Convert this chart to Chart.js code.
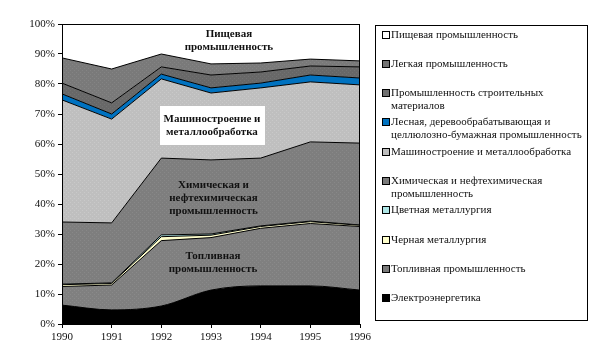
<!DOCTYPE html>
<html lang="ru">
<head>
<meta charset="utf-8">
<title>Структура промышленного производства</title>
<script src="https://cdn.jsdelivr.net/npm/chart.js@4/dist/chart.umd.min.js"></script>
<style>
    html, body { margin: 0; padding: 0; background: #fff; }
    #wrap { width: 603px; height: 363px; }
</style>
</head>
<body>
<div id="wrap"><canvas id="chartIndustry" width="603" height="363"></canvas></div>
<script>
// годы
const years = ['1990', '1991', '1992', '1993', '1994', '1995', '1996'];

// доли отраслей, % (снизу вверх)
const elektro         = [6.3, 4.7, 6.0, 11.3, 12.7, 12.7, 11.3];
const toplivnaya      = [6.2, 8.3, 21.8, 17.5, 19.2, 20.8, 21.2];
const chernaya        = [0.6, 0.5, 1.3, 0.8, 0.6, 0.6, 0.4];
const tsvetnaya       = [0.2, 0.2, 0.6, 0.4, 0.2, 0.2, 0.1];
const khimiya         = [20.7, 20.0, 25.6, 24.7, 22.6, 26.4, 27.3];
const mashinostroenie = [40.7, 34.6, 26.4, 22.3, 23.4, 20.0, 19.4];
const lesnaya         = [2.0, 1.7, 1.6, 1.7, 1.6, 2.3, 2.3];
const stroimat        = [3.6, 3.7, 2.4, 4.3, 3.7, 3.0, 3.7];
const legkaya         = [8.4, 11.3, 4.3, 3.7, 3.0, 2.3, 2.0];
const pishchevaya     = [11.3, 15.0, 10.0, 13.3, 13.0, 11.7, 12.3];

const yTicks = [0, 10, 20, 30, 40, 50, 60, 70, 80, 90, 100];

// подписи внутри графика: x — индекс года, y — %
const areaNotes = [
    { lines: ['Пищевая', 'промышленность'], x: 3.36, y: 94.5, box: false },
    { lines: ['Машиностроение и', 'металлообработка'], x: 3.02, y: 66.2, box: true },
    { lines: ['Химическая и', 'нефтехимическая', 'промышленность'], x: 3.05, y: 42, box: false },
    { lines: ['Топливная', 'промышленность'], x: 3.04, y: 20.6, box: false },
];

const SERIF = '"Liberation Serif", "Times New Roman", serif';

/**
 * Small dotted tile, imitating the Excel pattern fills.
 */
function dotted(base, dot) {
    const c = document.createElement('canvas');
    c.width = 4;
    c.height = 4;
    const g = c.getContext('2d');
    g.fillStyle = base;
    g.fillRect(0, 0, 4, 4);
    g.fillStyle = dot;
    g.fillRect(0, 0, 1, 1);
    g.fillRect(2, 2, 1, 1);
    return g.createPattern(c, 'repeat');
}

function series(label, data, fill, swatch, extra) {
    return Object.assign({
        label: label,
        data: data,
        backgroundColor: fill,
        swatch: swatch,
        borderColor: '#000',
        borderWidth: 1,
        pointRadius: 0,
        pointHoverRadius: 0,
        tension: 0,
        fill: '-1',
    }, extra || {});
}

const datasets = [
    series('Электроэнергетика', elektro, '#000', '#000', { fill: 'origin', cubicInterpolationMode: 'monotone' }),
    series('Топливная промышленность', toplivnaya, dotted('#808080', '#8a8a8a'), '#7a7a7a'),
    series('Черная металлургия', chernaya, '#ffffcc', '#ffffcc'),
    series('Цветная металлургия', tsvetnaya, '#aee6e6', '#aee6e6'),
    series('Химическая и нефтехимическая\nпромышленность', khimiya, dotted('#7e7e7e', '#888888'), '#7a7a7a'),
    series('Машиностроение и металлообработка', mashinostroenie, dotted('#bfbfbf', '#c9c9c9'), '#bdbdbd'),
    series('Лесная, деревообрабатывающая и\nцеллюлозно-бумажная промышленность', lesnaya, '#0072c0', '#0072c0'),
    series('Промышленность строительных\nматериалов', stroimat, dotted('#686868', '#727272'), '#707070'),
    series('Легкая промышленность', legkaya, dotted('#7a7a7a', '#848484'), '#747474'),
    series('Пищевая промышленность', pishchevaya, '#fff', '#fff'),
];

// рамка области построения, подписи областей и легенда
const decorPlugin = {
    id: 'decor',
    afterDatasetsDraw(chart) {
        const ctx = chart.ctx;
        const a = chart.chartArea;
        const xs = chart.scales.x;
        const ys = chart.scales.y;

        ctx.save();
        ctx.strokeStyle = '#000';
        ctx.lineWidth = 1;
        ctx.strokeRect(Math.round(a.left) + 0.5, Math.round(a.top) + 0.5,
                       Math.round(a.right - a.left) - 1, Math.round(a.bottom - a.top));

        ctx.font = 'bold 11px ' + SERIF;
        ctx.textAlign = 'center';
        ctx.textBaseline = 'middle';
        areaNotes.forEach(n => {
            const cx = xs.getPixelForValue(n.x);
            const cy = ys.getPixelForValue(n.y);
            const lh = 13;
            const top = cy - (n.lines.length - 1) * lh / 2;
            if (n.box) {
                const w = Math.max(...n.lines.map(t => ctx.measureText(t).width)) + 8;
                const h = n.lines.length * lh + 13;
                ctx.fillStyle = '#fff';
                ctx.fillRect(Math.round(cx - w / 2), Math.round(top - lh / 2 - 6), Math.round(w), h);
            }
            ctx.fillStyle = '#111';
            n.lines.forEach((t, i) => ctx.fillText(t, cx, top + i * lh));
        });
        ctx.restore();
    },
    afterDraw(chart) {
        const ctx = chart.ctx;
        const box = { x: 375, y: 25, w: 212, h: 295 };
        const step = 29.3;
        const items = chart.data.datasets.slice().reverse();

        ctx.save();
        ctx.strokeStyle = '#000';
        ctx.lineWidth = 1;
        ctx.strokeRect(box.x + 0.5, box.y + 0.5, box.w, box.h);

        ctx.font = '11px ' + SERIF;
        ctx.textAlign = 'left';
        ctx.textBaseline = 'middle';
        items.forEach((ds, i) => {
            const cy = Math.round(box.y + 9.5 + i * step);
            ctx.fillStyle = ds.swatch;
            ctx.fillRect(383, cy - 3, 6, 6);
            ctx.strokeRect(382.5, cy - 3.5, 7, 7);
            ctx.fillStyle = '#111';
            ds.label.split('\n').forEach((t, j) => {
                ctx.fillText(t, 391, cy + j * 12.7);
            });
        });
        ctx.restore();
    },
};

document.addEventListener('DOMContentLoaded', function () {
    if (typeof Chart === 'undefined') return;

    const canvas = document.getElementById('chartIndustry');

    new Chart(canvas, {
        type: 'line',
        data: {
            labels: years,
            datasets: datasets,
        },
        options: {
            responsive: false,
            animation: false,
            layout: {
                padding: { left: 0, top: 24, right: 243, bottom: 0 },
            },
            plugins: {
                legend: { display: false },
                tooltip: { enabled: false },
                filler: { propagate: false },
            },
            scales: {
                x: {
                    offset: false,
                    afterFit(scale) { scale.height = 39; },
                    grid: {
                        display: true,
                        drawOnChartArea: false,
                        drawTicks: true,
                        tickLength: 4,
                        color: '#000',
                    },
                    border: { display: true, color: '#000' },
                    ticks: {
                        color: '#111',
                        padding: 3,
                        maxRotation: 0,
                        font: { family: SERIF, size: 11 },
                    },
                },
                y: {
                    stacked: true,
                    min: 0,
                    max: 100,
                    afterFit(scale) { scale.width = 62; },
                    afterBuildTicks(scale) {
                        scale.ticks = yTicks.map(v => ({ value: v }));
                    },
                    grid: {
                        display: true,
                        drawOnChartArea: false,
                        drawTicks: true,
                        tickLength: 4,
                        color: '#000',
                    },
                    border: { display: true, color: '#000' },
                    ticks: {
                        color: '#111',
                        padding: 3,
                        font: { family: SERIF, size: 11 },
                        callback: v => v + '%',
                    },
                },
            },
        },
        plugins: [decorPlugin],
    });
});
</script>
</body>
</html>
